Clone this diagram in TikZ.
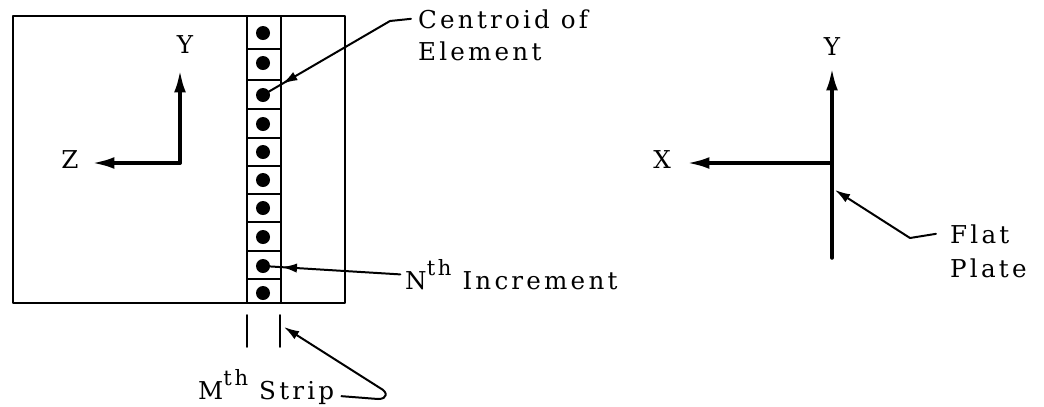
\documentclass[tikz,border=0pt]{standalone}
\usepackage{fontspec}
\setmainfont{DejaVu Serif}[LetterSpace=13]
\usetikzlibrary{arrows.meta,positioning,decorations.markings}

\newcommand{\thsup}{\raisebox{0.55em}{\fontsize{18}{18}\selectfont th}}

\begin{document}
\begin{tikzpicture}[x=0.03cm,y=-0.03cm,line cap=round,line join=round,
  every node/.style={font=\fontsize{21}{30}\selectfont,inner sep=0pt},
  frame/.style={line width=1.4pt},
  axis/.style={line width=3pt,-{Latex[length=19pt,width=10pt]}},
  leader/.style={line width=1.7pt,-{Latex[length=13pt,width=8pt]}},
  midleader/.style={line width=1.7pt,postaction={decorate},
    decoration={markings,mark=at position #1 with {\arrow{Latex[length=13pt,width=8pt]}}}}]
\useasboundingbox (0,0) rectangle (1044,406);
% plate with the strip of elements
\draw[frame] (13,16) rectangle (345,303);
\draw[frame] (247,16) -- (247,303);
\draw[frame] (281,16) -- (281,303);
\foreach \yy in {49,80,109,138,166,194,222,251,279}
  \draw[frame] (247,\yy) -- (281,\yy);
\foreach \yy [count=\i] in {33,63,95,124,152,180,208,237,266,293} {
  \coordinate (d\i) at (263,\yy);
  \fill (d\i) circle (7);
}
% strip marks
\draw[frame] (247,315) -- (247,347);
\draw[frame] (280,315) -- (280,347);
% left axes
\coordinate (o1) at (180,163);
\coordinate (ytip1) at (180,70);
\coordinate (ztip) at (92,163);
\draw[axis] (o1) -- (ytip1);
\draw[axis] (o1) -- (ztip);
\node (ylab1) at (185,45) {Y};
\node (zlab) at (70,160) {Z};
% right axes
\coordinate (o2) at (832,163);
\coordinate (ybot) at (832,258);
\coordinate (ytip2) at (832,68);
\coordinate (xtip) at (687,163);
\coordinate (plate) at (835,190);
\draw[axis] (ybot) -- (ytip2);
\draw[axis] (o2) -- (xtip);
\node (ylab2) at (832,47) {Y};
\node (xlab) at (662,160) {X};
% labels
\node[anchor=base west] (cent) at (418,28) {Centroid of};
\node[anchor=base west] (elem) at (418,60) {Element};
\node[anchor=base west] (incr) at (405,289) {N\thsup\ Increment};
\node[anchor=base west] (flat) at (950,243) {Flat};
\node[anchor=base west] (platelab) at (950,277) {Plate};
\node[anchor=base west] (strip) at (198,399) {M\thsup\ Strip};
% leaders
\draw[midleader=-19pt] ([xshift=-6pt]cent.west) -- (390,21) -- (d3);
\draw[midleader=-16pt] ([xshift=-4pt]incr.west) -- (d9);
\draw[leader] ([xshift=-12pt]flat.west) -- (910,238) -- (plate);
\draw[leader] ([xshift=6pt,yshift=-8pt]strip.east) -- (378,399)
  .. controls (388,399) and (388,392) .. (380,388) -- (284,327);
\end{tikzpicture}
\end{document}
